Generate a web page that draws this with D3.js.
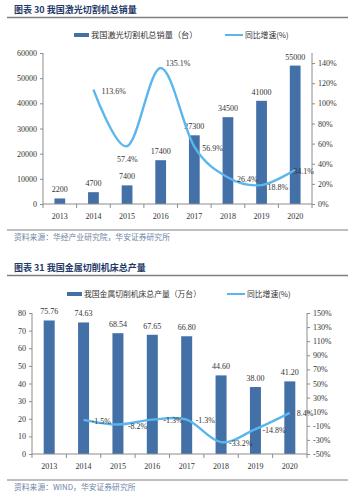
<!DOCTYPE html>
<html>
<head>
<meta charset="utf-8">
<script src="https://cdn.jsdelivr.net/npm/d3@7"></script>
<style>
  body { margin: 0; background: #fff; }
  text { font-family: "Liberation Serif", "Times New Roman", serif; }
  .cn { font-family: "Noto Sans CJK SC", sans-serif; }
</style>
</head>
<body>
<svg width="360" height="500"></svg>
<script>
var years = ["2013", "2014", "2015", "2016", "2017", "2018", "2019", "2020"];

// chart 30: laser cutting machine sales (units) and yoy growth
var laserSales = [2200, 4700, 7400, 17400, 27300, 34500, 41000, 55000];
var laserGrowth = [null, 113.6, 57.4, 135.1, 56.9, 26.4, 18.8, 34.1];
var laserLeftTicks = [0, 10000, 20000, 30000, 40000, 50000, 60000];
var laserRightTicks = [0, 20, 40, 60, 80, 100, 120, 140];

// chart 31: metal cutting machine tool output (10k units) and yoy growth
var toolOutput = [75.76, 74.63, 68.54, 67.65, 66.80, 44.60, 38.00, 41.20];
var toolGrowth = [null, -1.5, -8.2, -1.3, -1.3, -33.2, -14.8, 8.4];
var toolLeftTicks = [0, 10, 20, 30, 40, 50, 60, 70, 80];
var toolRightTicks = [-50, -30, -10, 10, 30, 50, 70, 90, 110, 130, 150];

var barColor = "#4470a8",
    lineColor = "#5cb6ee",
    axisColor = "#8c8c8c",
    titleColor = "#1f3a68",
    sourceColor = "#6f86a6";

var svg = d3.select("svg");

function header(y, title) {
  svg.append("text").attr("class", "cn")
    .attr("x", 14).attr("y", y)
    .attr("font-size", 9).attr("font-weight", "bold")
    .attr("fill", titleColor)
    .text(title);
  svg.append("line")
    .attr("x1", 7).attr("x2", 348).attr("y1", y + 4.5).attr("y2", y + 4.5)
    .attr("stroke", "#7f7f7f").attr("stroke-width", 1.5);
}

function footer(y, src) {
  svg.append("line")
    .attr("x1", 7).attr("x2", 348).attr("y1", y).attr("y2", y)
    .attr("stroke", "#7f7f7f").attr("stroke-width", 1);
  svg.append("text").attr("class", "cn")
    .attr("x", 14).attr("y", y + 10)
    .attr("font-size", 7.8)
    .attr("fill", sourceColor)
    .text(src);
}

function legend(y, x1, name1, fs, x2, name2) {
  svg.append("rect").attr("x", x1).attr("y", y - 4).attr("width", 15).attr("height", 4)
    .attr("fill", barColor);
  svg.append("text").attr("class", "cn")
    .attr("x", x1 + 17).attr("y", y + 1)
    .attr("font-size", fs).attr("fill", "#333")
    .text(name1);
  svg.append("line").attr("x1", x2).attr("x2", x2 + 18).attr("y1", y - 2).attr("y2", y - 2)
    .attr("stroke", lineColor).attr("stroke-width", 2);
  svg.append("text").attr("class", "cn")
    .attr("x", x2 + 20).attr("y", y + 1)
    .attr("font-size", 7.8).attr("fill", "#333")
    .text(name2);
}

function chart(cfg) {
  var x = d3.scaleBand().domain(years).range([cfg.left, cfg.right]).paddingInner(0.68).paddingOuter(0.34);
  var yL = d3.scaleLinear().domain(cfg.leftDomain).range([cfg.bottom, cfg.top]);
  var yR = d3.scaleLinear().domain(cfg.rightDomain).range([cfg.bottom, cfg.top]);
  var g = svg.append("g");

  // bars
  g.selectAll("rect.bar").data(cfg.bars).enter().append("rect")
    .attr("class", "bar")
    .attr("x", function(d, i) { return x(years[i]); })
    .attr("width", x.bandwidth())
    .attr("y", function(d) { return yL(d); })
    .attr("height", function(d) { return cfg.bottom - yL(d); })
    .attr("fill", barColor);

  g.selectAll("text.bl").data(cfg.bars).enter().append("text")
    .attr("class", "bl")
    .attr("x", function(d, i) { return x(years[i]) + x.bandwidth() / 2; })
    .attr("y", function(d) { return yL(d) - 6; })
    .attr("text-anchor", "middle").attr("font-size", 8).attr("fill", "#333")
    .text(cfg.barFmt);

  // axes
  var axL = g.append("g").attr("transform", "translate(" + cfg.left + ",0)")
    .call(d3.axisLeft(yL).tickValues(cfg.leftTicks).tickSize(3).tickPadding(3).tickFormat(cfg.leftFmt));
  var axR = g.append("g").attr("transform", "translate(" + cfg.right + ",0)")
    .call(d3.axisRight(yR).tickValues(cfg.rightTicks).tickSize(3).tickPadding(3).tickFormat(function(d) { return d + "%"; }));
  var axB = g.append("g").attr("transform", "translate(0," + cfg.bottom + ")")
    .call(d3.axisBottom(x).tickSize(0).tickPadding(9));
  axB.selectAll(".tick").append("line")
    .attr("x1", -x.step() / 2).attr("x2", -x.step() / 2).attr("y1", 0).attr("y2", 4)
    .attr("stroke", axisColor);
  axB.append("line").attr("x1", cfg.right).attr("x2", cfg.right).attr("y1", 0).attr("y2", 4)
    .attr("stroke", axisColor);
  [axL, axR, axB].forEach(function(a) {
    a.select(".domain").attr("stroke", axisColor);
    a.selectAll(".tick line").attr("stroke", axisColor);
    a.selectAll(".tick text").attr("font-size", 8).attr("fill", "#333")
      .attr("font-family", "Liberation Serif, serif");
  });
  axL.select(".domain").attr("d", "M0," + cfg.top + "V" + cfg.bottom);
  axR.select(".domain").attr("d", "M0," + cfg.top + "V" + cfg.bottom);
  axB.select(".domain").attr("d", "M" + cfg.left + ",0H" + cfg.right);

  // growth line
  var pts = cfg.growth.map(function(d, i) { return [x(years[i]) + x.bandwidth() / 2, d]; })
    .filter(function(p) { return p[1] !== null; });
  var line = d3.line()
    .x(function(p) { return p[0]; })
    .y(function(p) { return yR(p[1]); })
    .curve(d3.curveCatmullRom.alpha(0));
  g.append("path").datum(pts)
    .attr("d", line).attr("fill", "none")
    .attr("stroke", lineColor).attr("stroke-width", 2.4);

  g.selectAll("text.gl").data(pts).enter().append("text")
    .attr("class", "gl")
    .attr("x", function(p, i) { return p[0] + cfg.labelOff[i][0]; })
    .attr("y", function(p, i) { return yR(p[1]) + cfg.labelOff[i][1]; })
    .attr("font-size", 8).attr("fill", "#333")
    .text(function(p) { return p[1].toFixed(1) + "%"; });
}

header(13, "图表 30 我国激光切割机总销量");
legend(37, 74, "我国激光切割机总销量（台）", 8.2, 225, "同比增速(%)");
chart({
  left: 43, right: 312, top: 53, bottom: 204,
  bars: laserSales, barFmt: function(d) { return d; },
  growth: laserGrowth,
  leftDomain: [0, 60000], rightDomain: [0, 150],
  leftTicks: laserLeftTicks, rightTicks: laserRightTicks,
  leftFmt: function(d) { return d; },
  labelOff: [[8, 4], [-10, 16], [5, -2], [8, 4], [9, 5], [6, 5], [-2, 4]]
});
footer(230, "资料来源：华经产业研究院，华安证券研究所");

header(271, "图表 31 我国金属切削机床总产量");
legend(296, 67, "我国金属切削机床总产量（万台）", 7.8, 227, "同比增速(%)");
chart({
  left: 32, right: 307, top: 313, bottom: 454,
  bars: toolOutput, barFmt: function(d) { return d.toFixed(2); },
  growth: toolGrowth,
  leftDomain: [0, 80], rightDomain: [-50, 150],
  leftTicks: toolLeftTicks, rightTicks: toolRightTicks,
  leftFmt: function(d) { return d; },
  labelOff: [[8, 4], [10, 4], [11, 3], [9, 3], [8, 4], [7, 4], [7, 3]]
});
footer(480, "资料来源：WIND，华安证券研究所");
</script>
</body>
</html>
